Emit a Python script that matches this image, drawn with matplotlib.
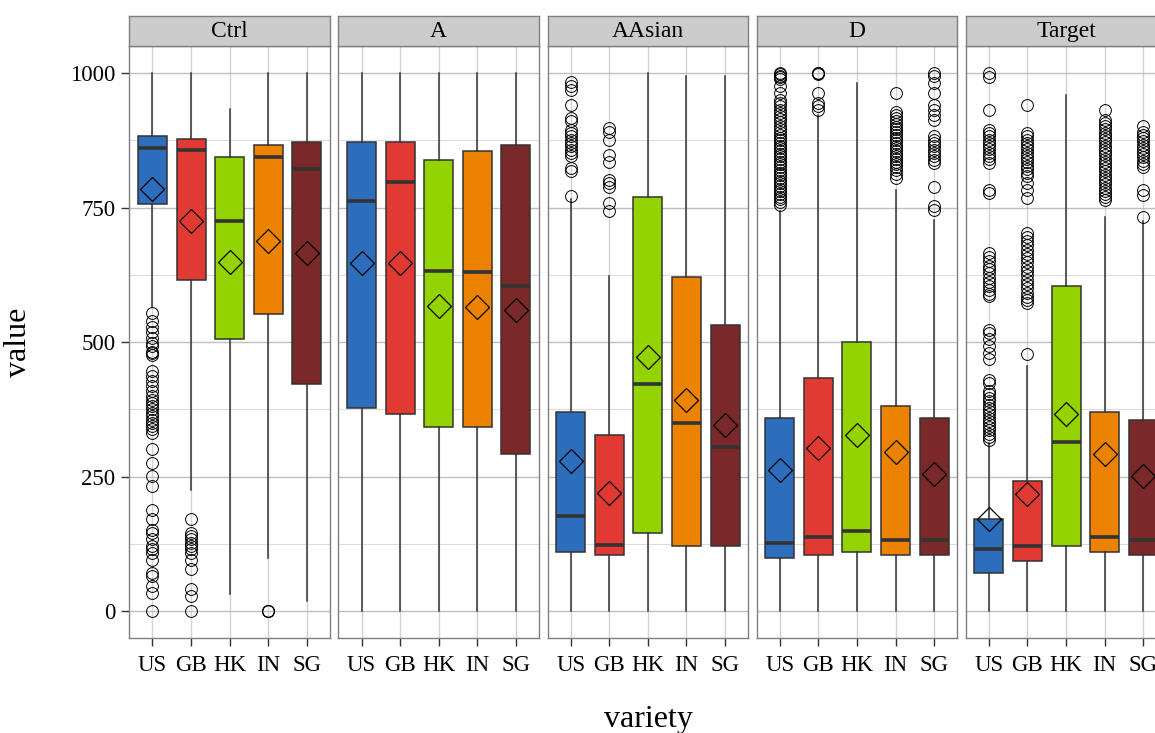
import matplotlib
matplotlib.use("Agg")
import matplotlib.pyplot as plt

plt.rcParams['font.family'] = ['Liberation Serif', 'DejaVu Serif']

panels = ["Ctrl", "A", "AAsian", "D", "Target"]
varieties = ["US", "GB", "HK", "IN", "SG"]
colors = ["#2C6EBC", "#E03A32", "#93D400", "#EC8200", "#7A2828"]

# box statistics per panel, one value per variety (US, GB, HK, IN, SG)
ctrl_q1 = [756, 616, 505, 553, 422]
ctrl_med = [861, 856, 725, 844, 821]
ctrl_q3 = [882, 877, 843, 866, 871]
ctrl_lo = [566, 226, 32, 100, 20]
ctrl_hi = [1000, 1000, 933, 1000, 1000]
ctrl_mean = [784, 725, 649, 687, 665]
ctrl_out = [
    [555, 540, 528, 518, 508, 499, 492, 482, 480, 477, 446, 437, 427, 418, 409,
     400, 393, 387, 381, 375, 369, 362, 356, 350, 344, 338, 332, 301, 276, 251,
     233, 189, 171, 152, 146, 134, 121, 115, 109, 96, 72, 65, 47, 35, 0],
    [171, 146, 140, 134, 127, 121, 115, 109, 96, 78, 41, 28, 0],
    [],
    [0, 0, 0],
    [],
]

a_q1 = [377, 367, 342, 343, 293]
a_med = [763, 797, 632, 631, 604]
a_q3 = [871, 871, 838, 855, 866]
a_lo = [0, 0, 0, 0, 0]
a_hi = [1000, 1000, 1000, 1000, 1000]
a_mean = [647, 647, 568, 565, 560]
a_out = [[], [], [], [], []]

aasian_q1 = [111, 105, 145, 121, 121]
aasian_med = [177, 124, 423, 349, 305]
aasian_q3 = [370, 328, 769, 621, 531]
aasian_lo = [0, 0, 0, 0, 0]
aasian_hi = [765, 622, 1000, 994, 994]
aasian_mean = [280, 220, 472, 393, 347]
aasian_out = [
    [984, 975, 969, 941, 916, 910, 894, 888, 882, 876, 870, 864, 857, 851, 845,
     823, 817, 771],
    [897, 891, 876, 848, 835, 801, 795, 789, 758, 743],
    [],
    [],
    [],
]

d_q1 = [100, 105, 111, 105, 105]
d_med = [127, 139, 149, 133, 133]
d_q3 = [359, 433, 500, 381, 359]
d_lo = [0, 0, 0, 0, 0]
d_hi = [743, 922, 982, 783, 727]
d_mean = [262, 303, 327, 296, 256]
d_out = [
    [1000, 998, 995, 992, 988, 975, 962, 950, 944, 938, 932, 926, 920, 914, 908,
     902, 896, 890, 885, 880, 875, 870, 865, 860, 855, 850, 845, 840, 835, 830,
     825, 820, 815, 810, 805, 800, 795, 790, 785, 780, 775, 770, 765, 760, 755],
    [1000, 1000, 998, 963, 944, 938, 931],
    [],
    [962, 928, 922, 916, 910, 905, 900, 895, 890, 885, 880, 875, 870, 865, 860,
     855, 850, 845, 840, 835, 830, 825, 820, 812, 805],
    [1000, 994, 981, 963, 941, 931, 922, 913, 882, 876, 870, 864, 857, 851, 845,
     839, 833, 789, 752, 746],
]

target_q1 = [71, 93, 121, 110, 105]
target_med = [116, 121, 315, 139, 133]
target_q3 = [171, 243, 605, 371, 356]
target_lo = [0, 0, 0, 0, 0]
target_hi = [313, 455, 959, 733, 725]
target_mean = [171, 218, 367, 293, 251]
target_out = [
    [1000, 993, 931, 894, 888, 882, 876, 870, 864, 858, 852, 846, 840, 833, 783,
     777, 665, 659, 650, 642, 635, 628, 620, 612, 604, 596, 590, 585, 523, 517,
     505, 492, 480, 468, 430, 424, 409, 403, 396, 390, 384, 378, 372, 366, 360,
     354, 348, 342, 336, 330, 324, 319],
    [940, 888, 882, 876, 870, 864, 858, 852, 846, 840, 834, 828, 822, 815, 808,
     795, 783, 767, 703, 695, 688, 680, 672, 664, 656, 648, 640, 632, 624, 616,
     608, 600, 592, 584, 578, 573, 478],
    [],
    [931, 913, 907, 901, 895, 889, 883, 877, 871, 865, 859, 853, 847, 841, 835,
     829, 823, 817, 811, 805, 799, 793, 787, 781, 775, 770, 764],
    [901, 891, 885, 879, 873, 867, 861, 855, 849, 843, 837, 831, 826, 783, 774,
     733],
]

panel_data = [
    (ctrl_q1, ctrl_med, ctrl_q3, ctrl_lo, ctrl_hi, ctrl_mean, ctrl_out),
    (a_q1, a_med, a_q3, a_lo, a_hi, a_mean, a_out),
    (aasian_q1, aasian_med, aasian_q3, aasian_lo, aasian_hi, aasian_mean, aasian_out),
    (d_q1, d_med, d_q3, d_lo, d_hi, d_mean, d_out),
    (target_q1, target_med, target_q3, target_lo, target_hi, target_mean, target_out),
]

W, H = 1155, 733
fig = plt.figure(figsize=(W / 100, H / 100), dpi=100)

# panel geometry in pixels (last panel runs off the right edge, like the source)
left0 = 129.3
step = 209.1
pw = 200.7
ptop = 46.0
pbot = 638.3
strip_h = 30.3

edge = "#333333"
border = "#7F7F7F"

for i, name in enumerate(panels):
    q1, med, q3, lo, hi, mean, out = panel_data[i]
    x0 = left0 + i * step
    ax = fig.add_axes([x0 / W, 1 - pbot / H, pw / W, (pbot - ptop) / H])

    stats = []
    for j in range(len(varieties)):
        stats.append({"q1": q1[j], "med": med[j], "q3": q3[j],
                      "whislo": lo[j], "whishi": hi[j], "mean": mean[j],
                      "fliers": out[j], "label": varieties[j]})

    bp = ax.bxp(stats, positions=range(1, 6), widths=0.75, patch_artist=True,
                showcaps=False, showmeans=True,
                boxprops=dict(edgecolor=edge, linewidth=1.1),
                whiskerprops=dict(color=edge, linewidth=1.1),
                medianprops=dict(color=edge, linewidth=2.6, solid_capstyle="butt"),
                meanprops=dict(marker="D", markersize=12, markerfacecolor="none",
                               markeredgecolor="black", markeredgewidth=0.9),
                flierprops=dict(marker="o", markersize=8.5, markerfacecolor="none",
                                markeredgecolor="black", markeredgewidth=0.7))
    for patch, c in zip(bp["boxes"], colors):
        patch.set_facecolor(c)

    ax.set_xlim(0.4, 5.6)
    ax.set_ylim(-50, 1050)
    ax.set_yticks([0, 250, 500, 750, 1000])
    ax.set_yticks([125, 375, 625, 875], minor=True)
    ax.set_xticks(range(1, 6))
    ax.set_xticklabels(varieties)
    ax.set_axisbelow(True)
    ax.grid(axis="y", which="major", color="#BEBEBE", linewidth=1.0)
    ax.grid(axis="y", which="minor", color="#DCDCDC", linewidth=0.8)
    ax.grid(axis="x", which="major", color="#D2D2D2", linewidth=1.0)
    for s in ax.spines.values():
        s.set_color(border)
        s.set_linewidth(1.0)
    ax.tick_params(axis="both", which="major", direction="out", length=6,
                   width=1.0, color=edge, labelsize=16.5, pad=4)
    ax.tick_params(axis="x", which="major", pad=6)
    ax.tick_params(axis="y", which="minor", length=0)
    if i == 0:
        ax.set_yticklabels(["0", "250", "500", "750", "1000"])
    else:
        ax.tick_params(axis="y", which="major", length=0, labelleft=False)

    # facet strip
    sax = fig.add_axes([x0 / W, 1 - ptop / H, pw / W, strip_h / H])
    sax.set_facecolor("#CCCCCC")
    sax.set_xticks([])
    sax.set_yticks([])
    for s in sax.spines.values():
        s.set_color(border)
        s.set_linewidth(1.0)
    sax.text(0.5, 0.47, name, ha="center", va="center", fontsize=17,
             transform=sax.transAxes)

fig.text(18 / W, 1 - 342 / H, "value", rotation=90, ha="center", va="center",
         fontsize=23)
fig.text(648 / W, 1 - 720 / H, "variety", ha="center", va="center", fontsize=23)

fig.savefig("out.png", dpi=100)
